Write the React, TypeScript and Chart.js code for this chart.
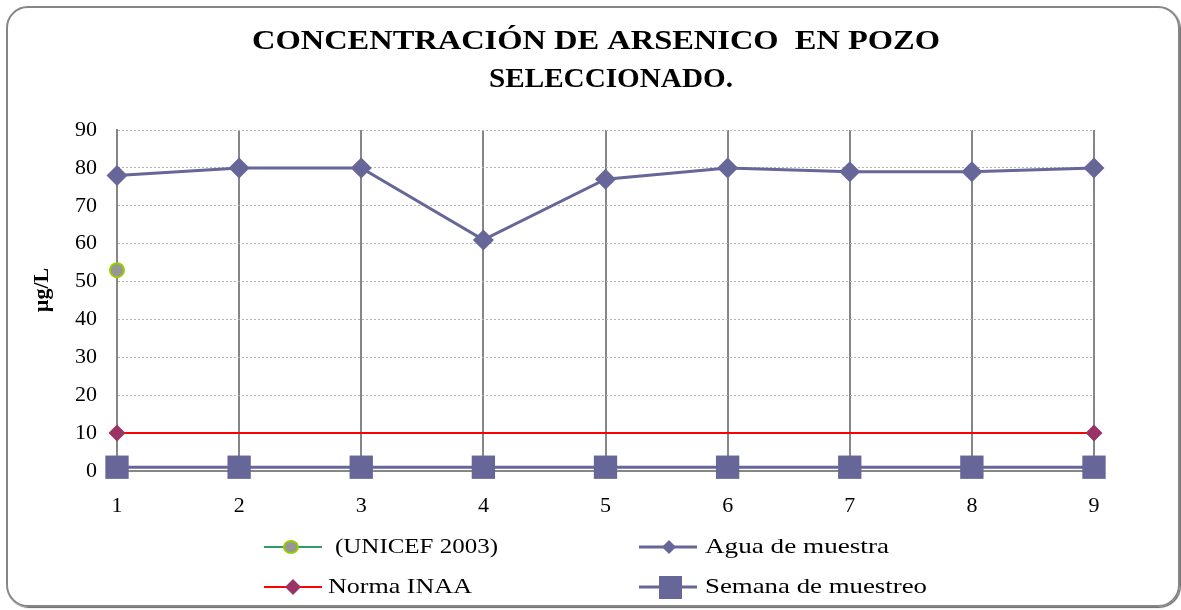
import React, { useEffect, useRef } from "react";
import { Chart, registerables } from "chart.js";

Chart.register(...registerables);

const categories = ["1", "2", "3", "4", "5", "6", "7", "8", "9"];
const unicef = [53, null, null, null, null, null, null, null, null];
const aguaMuestra = [78, 80, 80, 61, 77, 80, 79, 79, 80];
const normaINAA = [10, 10, 10, 10, 10, 10, 10, 10, 10];
const semanaMuestreo = [1, 1, 1, 1, 1, 1, 1, 1, 1];
const titleLines = ["CONCENTRACIÓN DE ARSENICO  EN POZO", "SELECCIONADO."];
const seriesNames = ["(UNICEF 2003)", "Agua de muestra", "Norma INAA", "Semana de muestreo"];
const yAxisTitle = "µg/L";

const SERIF = "'Liberation Serif', 'Times New Roman', serif";
const PURPLE = "#666699";

// draw text stretched horizontally to a target width
function stretchText(ctx: any, text: string, x: number, y: number, target: number, align: "left" | "center") {
  const w = ctx.measureText(text).width;
  const s = target / w;
  ctx.save();
  const left = align === "center" ? x - target / 2 : x;
  ctx.translate(left, y);
  ctx.scale(s, 1);
  ctx.textAlign = "left";
  ctx.fillText(text, 0, 0);
  ctx.restore();
}

const titleLegendPlugin = {
  id: "titleLegend",
  afterDraw(chart: any) {
    const ctx = chart.ctx;
    ctx.save();
    // title
    ctx.fillStyle = "#000";
    ctx.font = `bold 28px ${SERIF}`;
    ctx.textBaseline = "middle";
    stretchText(ctx, titleLines[0], 596, 42, 688, "center");
    stretchText(ctx, titleLines[1], 611, 80, 244, "center");

    // y axis title
    ctx.save();
    ctx.font = `bold 22px ${SERIF}`;
    ctx.translate(42, 290);
    ctx.rotate(-Math.PI / 2);
    ctx.textAlign = "center";
    ctx.textBaseline = "middle";
    ctx.fillText(yAxisTitle, 0, 0);
    ctx.restore();

    // legend
    const rows = [547, 587];
    const drawLine = (x1: number, x2: number, y: number, color: string, w: number) => {
      ctx.strokeStyle = color;
      ctx.lineWidth = w;
      ctx.beginPath();
      ctx.moveTo(x1, y);
      ctx.lineTo(x2, y);
      ctx.stroke();
    };
    const diamond = (x: number, y: number, r: number, color: string) => {
      ctx.fillStyle = color;
      ctx.beginPath();
      ctx.moveTo(x - r, y);
      ctx.lineTo(x, y - r);
      ctx.lineTo(x + r, y);
      ctx.lineTo(x, y + r);
      ctx.closePath();
      ctx.fill();
    };
    // UNICEF
    drawLine(264, 322, rows[0], "#339966", 2);
    ctx.fillStyle = "#969696";
    ctx.strokeStyle = "#99cc00";
    ctx.lineWidth = 2;
    ctx.beginPath();
    ctx.ellipse(291, rows[0], 7, 6, 0, 0, Math.PI * 2);
    ctx.fill();
    ctx.stroke();
    // Agua
    drawLine(639, 697, rows[0], PURPLE, 3);
    diamond(669, rows[0], 7, PURPLE);
    // Norma
    drawLine(264, 322, rows[1], "#ff0000", 2);
    diamond(293, rows[1], 8, "#993366");
    // Semana
    drawLine(639, 697, rows[1], PURPLE, 3);
    ctx.fillStyle = PURPLE;
    ctx.fillRect(659, rows[1] - 11, 23, 23);

    ctx.fillStyle = "#000";
    ctx.font = `22px ${SERIF}`;
    ctx.textBaseline = "middle";
    stretchText(ctx, seriesNames[0], 335, rows[0], 163, "left");
    stretchText(ctx, seriesNames[1], 705, rows[0], 184, "left");
    stretchText(ctx, seriesNames[2], 328, rows[1], 144, "left");
    stretchText(ctx, seriesNames[3], 705, rows[1], 222, "left");
    ctx.restore();
  },
};

export default function App() {
  const ref = useRef<HTMLCanvasElement | null>(null);
  useEffect(() => {
    if (!ref.current) return;
    const normaRadius = normaINAA.map((_, i) => (i === 0 || i === normaINAA.length - 1 ? 8.5 : 0));
    const chart = new Chart(ref.current, {
      type: "line",
      data: {
        labels: categories,
        datasets: [
          {
            label: seriesNames[0],
            data: unicef,
            borderColor: "#339966",
            borderWidth: 2,
            pointStyle: "circle",
            pointRadius: 7,
            pointBackgroundColor: "#969696",
            pointBorderColor: "#99cc00",
            pointBorderWidth: 2,
            clip: false as any,
          },
          {
            label: seriesNames[1],
            data: aguaMuestra,
            borderColor: PURPLE,
            borderWidth: 3,
            pointStyle: "rectRot",
            pointRadius: 10.5,
            pointBackgroundColor: PURPLE,
            pointBorderColor: PURPLE,
            pointBorderWidth: 0,
            clip: false as any,
          },
          {
            label: seriesNames[2],
            data: normaINAA,
            borderColor: "#ff0000",
            borderWidth: 2,
            pointStyle: "rectRot",
            pointRadius: normaRadius,
            pointBackgroundColor: "#993366",
            pointBorderColor: "#993366",
            pointBorderWidth: 0,
            clip: false as any,
          },
          {
            label: seriesNames[3],
            data: semanaMuestreo,
            borderColor: PURPLE,
            borderWidth: 3,
            pointStyle: "rect",
            pointRadius: 16.5,
            pointBackgroundColor: PURPLE,
            pointBorderColor: PURPLE,
            pointBorderWidth: 0,
            clip: false as any,
          },
        ],
      },
      options: {
        animation: false,
        responsive: false,
        events: [],
        layout: { padding: { left: 20, right: 87, top: 130, bottom: 89 } },
        plugins: {
          legend: { display: false },
          title: { display: false },
          tooltip: { enabled: false },
        },
        scales: {
          x: {
            type: "category",
            offset: false,
            afterFit(scale: any) {
              scale.height = 50;
            },
            grid: {
              color: "#868686",
              lineWidth: 2,
              drawTicks: false,
            },
            border: { display: true, color: "#868686", width: 2 },
            ticks: {
              color: "#000",
              font: { family: SERIF, size: 22 },
              padding: 22,
            },
          },
          y: {
            min: 0,
            max: 90,
            afterFit(scale: any) {
              scale.width = 97;
            },
            grid: {
              color: "#b4b4b4",
              lineWidth: 1,
              drawTicks: false,
            },
            border: { display: true, color: "#868686", width: 2, dash: [2, 2] } as any,
            ticks: {
              stepSize: 10,
              color: "#000",
              font: { family: SERIF, size: 22 },
              padding: 20,
            },
          },
        },
      },
      plugins: [titleLegendPlugin],
    });
    return () => chart.destroy();
  }, []);

  return (
    <div style={{ position: "absolute", left: 0, top: 0, width: 1181, height: 610, background: "#fff" }}>
      <canvas ref={ref} width={1181} height={610} style={{ position: "absolute", left: 0, top: 0 }} />
      <div
        style={{
          position: "absolute",
          left: 6,
          top: 6,
          width: 1174,
          height: 601,
          boxSizing: "border-box",
          border: "2px solid #868686",
          borderRadius: 22,
          boxShadow: "1px 1px 1px rgba(0,0,0,0.6)",
          pointerEvents: "none",
        }}
      />
    </div>
  );
}
